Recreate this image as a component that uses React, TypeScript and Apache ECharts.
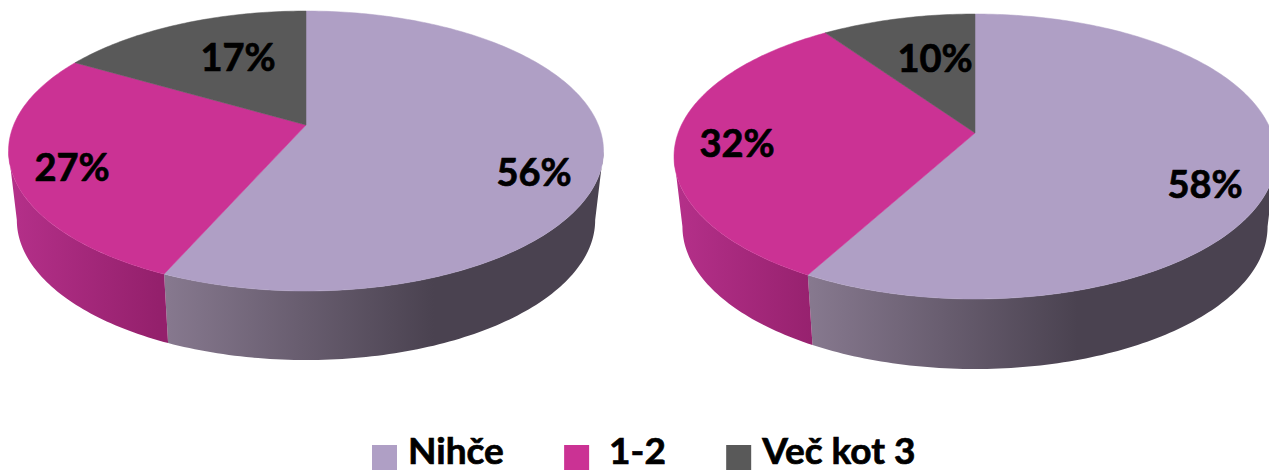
import React, { useEffect, useRef } from "react";
import * as echarts from "echarts";

const categories = ["Nihče", "1-2", "Več kot 3"];
const leftValues = [56.6, 26.8, 16.6];
const rightValues = [58, 32.3, 9.7];
const leftLabels = ["56%", "27%", "17%"];
const rightLabels = ["58%", "32%", "10%"];

const topColors = ["#AF9FC5", "#CB3294", "#595959"];
const wallStops = [
  ["#87798F", "#4A4250"],
  ["#B5308A", "#94206C"],
  ["#4A4A4A", "#333333"],
];
const wallSpan = [270, 150, 150];

// Perspective of each disc: apex, widest half-width, top and bottom of the rim
const discs = [
  { cx: 306, apex: 125, halfW: 297.5, top: 11, bottom: 291, depth: 69, labels: [[534, 171], [72, 166], [238, 56]] },
  { cx: 975, apex: 133, halfW: 301, top: 14, bottom: 299, depth: 70, labels: [[1205, 183], [737, 142], [935, 57]] },
];
const WALL_SCALE = 0.972;
const pies = [leftValues, rightValues];
const pieLabels = [leftLabels, rightLabels];

function projector(d: (typeof discs)[number]) {
  const c = -((d.bottom - d.apex) - (d.apex - d.top)) / (d.bottom - d.top);
  const a = d.apex - d.top + d.top * c;
  const k = d.halfW * Math.sqrt(1 - c * c);
  const at = (deg: number) => {
    const t = (deg * Math.PI) / 180;
    const v = Math.sin(t);
    const u = -Math.cos(t);
    const w = 1 + c * u;
    return [d.cx + (k * v) / w, (a * u + d.apex) / w];
  };
  const widest = (Math.acos(c) * 180) / Math.PI;
  return { at, widest };
}

function sweep(from: number, to: number) {
  const out: number[] = [];
  const n = Math.max(2, Math.ceil(to - from));
  for (let i = 0; i <= n; i++) out.push(from + ((to - from) * i) / n);
  return out;
}

function renderSlice(seriesIndex: number) {
  return (_params: any, api: any) => {
    const pie = api.value(0) as number;
    const start = api.value(1) as number;
    const value = api.value(2) as number;
    const d = discs[pie];
    const { at, widest } = projector(d);
    const a0 = (start / 100) * 360;
    const a1 = ((start + value) / 100) * 360;
    const children: any[] = [];
    const w0 = Math.max(a0, 180 - Math.abs(180 - widest));
    const w1 = Math.min(a1, 180 + Math.abs(180 - widest));
    if (w1 > w0) {
      const upper = sweep(w0, w1).map(at);
      const lower = upper
        .map(([x, y]) => [d.cx + (x - d.cx) * WALL_SCALE, y + d.depth])
        .reverse();
      const xs = upper.concat(lower).map((p) => p[0]);
      const minX = Math.min(...xs);
      children.push({
        type: "polygon",
        shape: { points: upper.concat(lower) },
        style: {
          fill: new echarts.graphic.LinearGradient(
            minX, 0, minX + wallSpan[seriesIndex], 0,
            [
              { offset: 0, color: wallStops[seriesIndex][0] },
              { offset: 1, color: wallStops[seriesIndex][1] },
            ],
            true,
          ),
        },
      });
    }
    children.push({
      type: "polygon",
      shape: { points: [[d.cx, d.apex], ...sweep(a0, a1).map(at)] },
      style: { fill: topColors[seriesIndex], stroke: topColors[seriesIndex], lineWidth: 0.5 },
    });
    const [lx, ly] = d.labels[seriesIndex];
    children.push({
      type: "text",
      x: lx,
      y: ly,
      z2: 10,
      style: {
        text: pieLabels[pie][seriesIndex],
        fontFamily: "Lato",
        fontWeight: "bold",
        fontSize: 38,
        fill: "#000",
        stroke: "#000",
        lineWidth: 0.7,
        align: "center",
        verticalAlign: "middle",
      },
    });
    return { type: "group", children };
  };
}

function buildData(seriesIndex: number) {
  return pies.map((vals, pie) => {
    const start = vals.slice(0, seriesIndex).reduce((s, v) => s + v, 0);
    return [pie, start, vals[seriesIndex]];
  });
}

export default function App() {
  const ref = useRef<HTMLDivElement>(null);
  useEffect(() => {
    document.body.style.margin = "0";
    const chart = echarts.init(ref.current!, null, { renderer: "svg" });
    chart.setOption({
      animation: false,
      backgroundColor: "#fff",
      legend: {
        left: 372,
        top: 428,
        padding: 0,
        icon: "path://M0 17H25V42H0Z M0 0L0 0",
        itemWidth: 25,
        itemHeight: 42,
        itemGap: 60,
        selectedMode: false,
        data: categories,
        formatter: (n: string) => (n === "1-2" ? "\u00a01-2" : n),
        textStyle: {
          fontFamily: "Lato",
          fontWeight: "bold",
          fontSize: 37,
          lineHeight: 30,
          color: "#000",
          textBorderColor: "#000",
          textBorderWidth: 0.7,
          padding: [0, 0, 0, 6],
        },
      },
      series: categories.map((name, i) => ({
        type: "custom",
        name,
        coordinateSystem: "none",
        silent: true,
        itemStyle: { color: topColors[i] },
        renderItem: renderSlice(i),
        data: buildData(i),
      })),
    });
    return () => chart.dispose();
  }, []);
  return <div ref={ref} style={{ width: 1269, height: 473 }} />;
}
